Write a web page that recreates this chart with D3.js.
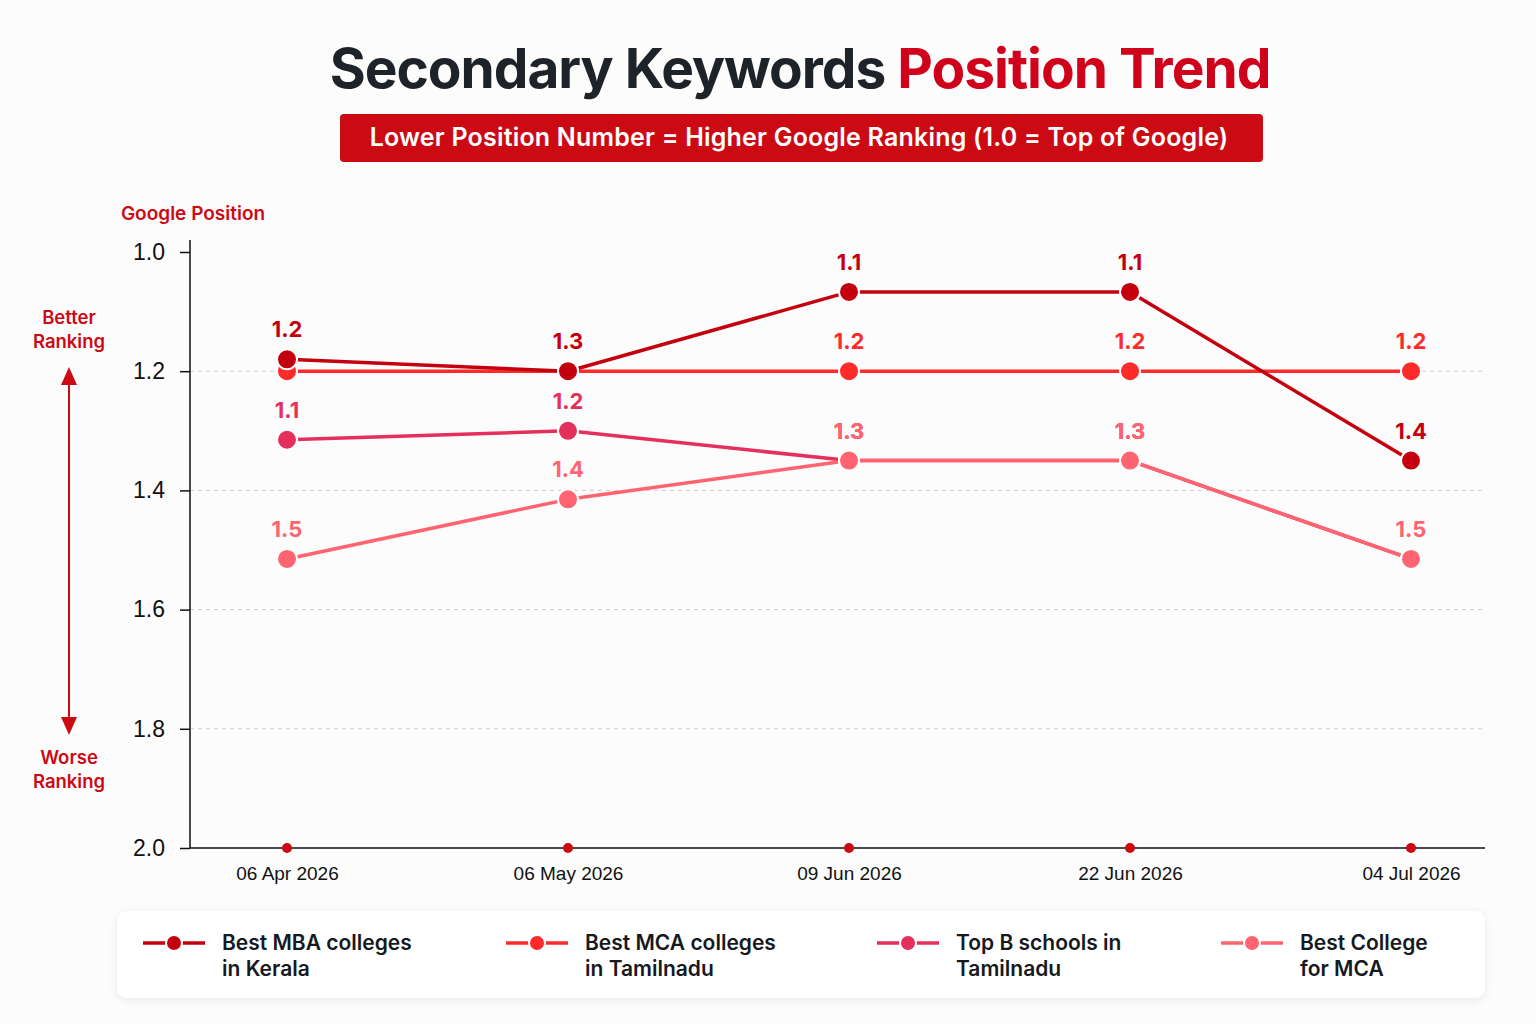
<!DOCTYPE html>
<html lang="en">
<head>
<meta charset="UTF-8">
<title>Secondary Keywords Position Trend</title>
<script src="https://d3js.org/d3.v7.min.js"></script>
<style>
    body { margin: 0; background: #fcfcfc; font-family: Inter, "Noto Sans", sans-serif; }
    svg { display: block; }
    .grid line { stroke: #cfcfcf; stroke-dasharray: 4 4; }
    .axis path, .axis line { stroke: #111; stroke-width: 1.5; }
    .axis text { fill: #111; }
</style>
</head>
<body>
<div id="chart"></div>
<script>
    // chart data
    var dates = ["06 Apr 2026", "06 May 2026", "09 Jun 2026", "22 Jun 2026", "04 Jul 2026"];
    var seriesNames = [["Best MBA colleges", "in Kerala"], ["Best MCA colleges", "in Tamilnadu"],
                       ["Top B schools in", "Tamilnadu"], ["Best College", "for MCA"]];
    var seriesColors = ["#c4000f", "#ff2b2b", "#e4305b", "#ff6470"];
    var mbaKerala = [1.18, 1.2, 1.067, 1.067, 1.35];
    var mcaTamil = [1.2, 1.2, 1.2, 1.2, 1.2];
    var topBSchools = [1.315, 1.3, 1.35, 1.35, 1.515];
    var bestCollegeMca = [1.515, 1.415, 1.35, 1.35, 1.515];
    var mbaLabels = ["1.2", "1.3", "1.1", "1.1", "1.4"];
    var mcaLabels = ["", "", "1.2", "1.2", "1.2"];
    var topBLabels = ["1.1", "1.2", "1.3", "1.3", ""];
    var bestCollegeLabels = ["1.5", "1.4", "1.3", "1.3", "1.5"];
    var yTicks = [1.0, 1.2, 1.4, 1.6, 1.8, 2.0];

    var allValues = [mbaKerala, mcaTamil, topBSchools, bestCollegeMca];
    var allLabels = [mbaLabels, mcaLabels, topBLabels, bestCollegeLabels];

    var width = 1536, height = 1024;
    var plot = {left: 190, right: 1485, top: 240, bottom: 848};

    var svg = d3.select("#chart").append("svg")
        .attr("width", width)
        .attr("height", height);

    var defs = svg.append("defs");
    var shadow = defs.append("filter").attr("id", "shadow")
        .attr("x", "-5%").attr("y", "-30%").attr("width", "110%").attr("height", "160%");
    shadow.append("feDropShadow").attr("dx", 0).attr("dy", 2).attr("stdDeviation", 4)
        .attr("flood-color", "#000").attr("flood-opacity", 0.08);

    // title
    var title = svg.append("text")
        .attr("x", 800).attr("y", 88)
        .attr("text-anchor", "middle")
        .style("font-size", "55px").style("font-weight", 700)
        .style("letter-spacing", "-1px");
    title.append("tspan").attr("fill", "#1e2329").text("Secondary Keywords ");
    title.append("tspan").attr("fill", "#d0021b").text("Position Trend");

    // subtitle banner
    svg.append("rect")
        .attr("x", 340).attr("y", 114).attr("width", 923).attr("height", 48)
        .attr("rx", 4).attr("fill", "#cc0a14");
    svg.append("text")
        .attr("x", 799).attr("y", 146)
        .attr("text-anchor", "middle").attr("fill", "#fff")
        .style("font-size", "25px").style("font-weight", 600)
        .style("letter-spacing", "0.2px")
        .text("Lower Position Number = Higher Google Ranking (1.0 = Top of Google)");

    // scales
    var x = d3.scalePoint().domain(dates).range([287, 1411]);
    var y = d3.scaleLinear().domain([1, 2]).range([252, plot.bottom]);

    // gridlines
    svg.append("g").attr("class", "grid")
        .selectAll("line")
        .data(yTicks.filter(function(d) { return d > 1 && d < 2; }))
        .enter().append("line")
        .attr("x1", plot.left).attr("x2", plot.right)
        .attr("y1", function(d) { return y(d); })
        .attr("y2", function(d) { return y(d); });

    // y axis
    var yAxis = svg.append("g").attr("class", "axis")
        .attr("transform", "translate(" + plot.left + ",0)")
        .call(d3.axisLeft(y).tickValues(yTicks).tickFormat(d3.format(".1f")).tickSize(10).tickSizeOuter(0).tickPadding(15));
    yAxis.select(".domain").attr("d", "M0," + plot.top + "V" + plot.bottom);
    yAxis.selectAll("text").style("font-size", "23px").style("font-weight", 500);

    // x axis
    var xAxis = svg.append("g").attr("class", "axis")
        .attr("transform", "translate(0," + plot.bottom + ")")
        .call(d3.axisBottom(x).tickSize(0).tickPadding(19));
    xAxis.select(".domain").attr("d", "M" + plot.left + ",0H" + plot.right);
    xAxis.selectAll("text").style("font-size", "19px").style("font-weight", 500);

    // small dots on the x axis
    svg.append("g").selectAll("circle")
        .data(dates).enter().append("circle")
        .attr("cx", function(d) { return x(d); })
        .attr("cy", plot.bottom)
        .attr("r", 5)
        .attr("fill", "#cc0a14");

    // axis title
    svg.append("text")
        .attr("x", 193).attr("y", 220)
        .attr("text-anchor", "middle").attr("fill", "#cc0a14")
        .style("font-size", "19px").style("font-weight", 600)
        .text("Google Position");

    // better / worse annotation
    var note = svg.append("g").attr("fill", "#cc0a14")
        .style("font-size", "18.5px").style("font-weight", 600)
        .attr("text-anchor", "middle");
    note.append("text").attr("x", 69).attr("y", 324).text("Better");
    note.append("text").attr("x", 69).attr("y", 348).text("Ranking");
    note.append("text").attr("x", 69).attr("y", 764).text("Worse");
    note.append("text").attr("x", 69).attr("y", 788).text("Ranking");
    note.append("line")
        .attr("x1", 69).attr("x2", 69).attr("y1", 380).attr("y2", 722)
        .attr("stroke", "#cc0a14").attr("stroke-width", 2);
    note.append("path").attr("d", "M69,367 L61,385 L77,385 Z");
    note.append("path").attr("d", "M69,735 L61,717 L77,717 Z");

    // lines
    var line = d3.line()
        .x(function(d, i) { return x(dates[i]); })
        .y(function(d) { return y(d); });

    var drawOrder = [2, 3, 1, 0];
    drawOrder.forEach(function(s) {
        svg.append("path")
            .datum(allValues[s])
            .attr("d", line)
            .attr("fill", "none")
            .attr("stroke", seriesColors[s])
            .attr("stroke-width", 3.5)
            .attr("stroke-linejoin", "round");
    });

    drawOrder.forEach(function(s) {
        var g = svg.append("g");
        g.selectAll("circle")
            .data(allValues[s]).enter().append("circle")
            .attr("cx", function(d, i) { return x(dates[i]); })
            .attr("cy", function(d) { return y(d); })
            .attr("r", 10)
            .attr("fill", seriesColors[s])
            .attr("stroke", "#fff")
            .attr("stroke-width", 2);
        g.selectAll("text")
            .data(allValues[s]).enter().append("text")
            .attr("x", function(d, i) { return x(dates[i]); })
            .attr("y", function(d) { return y(d) - 22; })
            .attr("text-anchor", "middle")
            .attr("fill", seriesColors[s])
            .style("font-size", "22px").style("font-weight", 700)
            .text(function(d, i) { return allLabels[s][i]; });
    });

    // legend
    var legend = svg.append("g");
    legend.append("rect")
        .attr("x", 117).attr("y", 911).attr("width", 1368).attr("height", 87)
        .attr("rx", 10).attr("fill", "#fff")
        .attr("filter", "url(#shadow)");

    var legendX = [143, 506, 877, 1221];
    seriesNames.forEach(function(name, s) {
        var item = legend.append("g").attr("transform", "translate(" + legendX[s] + ",943)");
        item.append("line")
            .attr("x1", 0).attr("x2", 62)
            .attr("stroke", seriesColors[s]).attr("stroke-width", 3.5);
        item.append("circle")
            .attr("cx", 31).attr("r", 8)
            .attr("fill", seriesColors[s]).attr("stroke", "#fff").attr("stroke-width", 2);
        var t = item.append("text")
            .attr("fill", "#16191d")
            .style("font-size", "21px").style("font-weight", 600);
        t.append("tspan").attr("x", 79).attr("y", 7).text(name[0]);
        t.append("tspan").attr("x", 79).attr("y", 33).text(name[1]);
    });
</script>
</body>
</html>
